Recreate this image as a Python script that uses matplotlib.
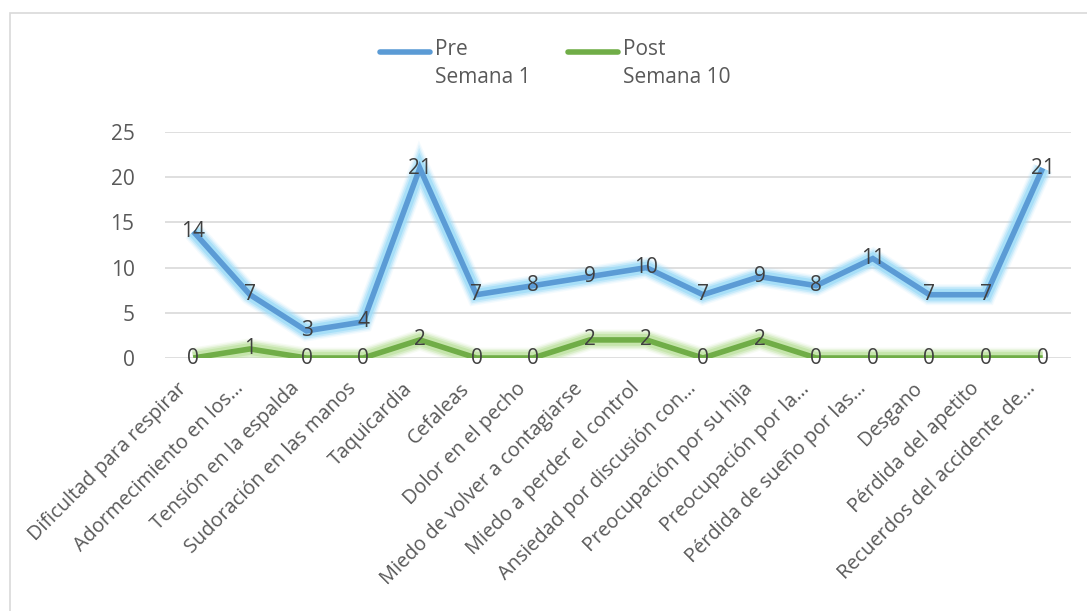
import matplotlib
matplotlib.use("Agg")
import matplotlib.pyplot as plt
import matplotlib.patheffects as pe
from matplotlib.lines import Line2D
from matplotlib.patches import Rectangle
from matplotlib.transforms import ScaledTranslation

plt.rcParams['font.family'] = ['Open Sans', 'DejaVu Sans']

categories = [
    "Dificultad para respirar",
    "Adormecimiento en los…",
    "Tensión en la espalda",
    "Sudoración en las manos",
    "Taquicardia",
    "Cefaleas",
    "Dolor en el pecho",
    "Miedo de volver a contagiarse",
    "Miedo a perder el control",
    "Ansiedad por discusión con…",
    "Preocupación por su hija",
    "Preocupación por la…",
    "Pérdida de sueño por las…",
    "Desgano",
    "Pérdida del apetito",
    "Recuerdos del accidente de…",
]
pre_semana1 = [14, 7, 3, 4, 21, 7, 8, 9, 10, 7, 9, 8, 11, 7, 7, 21]
post_semana10 = [0, 1, 0, 0, 2, 0, 0, 2, 2, 0, 2, 0, 0, 0, 0, 0]
y_ticks = [0, 5, 10, 15, 20, 25]

W, H = 1087, 611
FS = 15
fig = plt.figure(figsize=(W / 100, H / 100), dpi=100)
fig.patch.set_facecolor("white")

# light outer frame of the chart area
fig.patches.append(Rectangle((10 / W, -0.05), 1.2, 1 - 13 / H + 0.05,
                             transform=fig.transFigure, fill=False,
                             edgecolor="#D9D9D9", linewidth=1.2, zorder=0))

ax = fig.add_axes([165 / W, 1 - 358 / H, (1071 - 165) / W, (358 - 132) / H])
x = list(range(len(categories)))

blue, blue_glow = "#5B9BD5", "#9EDCF8"
green, green_glow = "#70AD47", "#BFE3A2"


def glow(color):
    return [
        pe.Stroke(linewidth=15, foreground=color, alpha=0.12),
        pe.Stroke(linewidth=13, foreground=color, alpha=0.22),
        pe.Stroke(linewidth=11, foreground=color, alpha=0.4),
        pe.Stroke(linewidth=8.5, foreground=color, alpha=0.75),
        pe.Normal(),
    ]


ax.plot(x, pre_semana1, color=blue, linewidth=4.0, solid_joinstyle="miter",
        solid_capstyle="butt", path_effects=glow(blue_glow), zorder=3)
ax.plot(x, post_semana10, color=green, linewidth=4.0, solid_joinstyle="miter",
        solid_capstyle="butt", path_effects=glow(green_glow), zorder=3)

for xi, v in zip(x, pre_semana1):
    ax.text(xi, v, str(v), ha="center", va="center", fontsize=FS,
            color="#404040", zorder=5)
for xi, v in zip(x, post_semana10):
    ax.text(xi, v, str(v), ha="center", va="center", fontsize=FS,
            color="#404040", zorder=5)

ax.set_xlim(-0.5, len(categories) - 0.5)
ax.set_ylim(0, 25)
ax.set_yticks(y_ticks)
ax.yaxis.grid(True, color="#D9D9D9", linewidth=1.2)
ax.set_axisbelow(True)
for s in ax.spines.values():
    s.set_visible(False)
ax.tick_params(axis="y", length=0, pad=22, labelsize=FS, labelcolor="#595959")
ax.tick_params(axis="x", length=0, pad=20, labelsize=14.3, labelcolor="#595959")

ax.set_xticks(x)
ax.set_xticklabels(categories, rotation=45, ha="right", va="center",
                   rotation_mode="anchor")
offset = ScaledTranslation(-7 / 72, 0, fig.dpi_scale_trans)
for lbl in ax.get_xticklabels():
    lbl.set_transform(lbl.get_transform() + offset)

# legend at the top
for (x0, x1, tx, color, label) in [
    (380, 430, 435, blue, "Pre\nSemana 1"),
    (568, 618, 623, green, "Post\nSemana 10"),
]:
    yl = 1 - 52 / H
    fig.add_artist(Line2D([x0 / W, x1 / W], [yl, yl], transform=fig.transFigure,
                          color=color, linewidth=4.0, solid_capstyle="round"))
    fig.text(tx / W, 1 - 39 / H, label, ha="left", va="top", fontsize=FS,
             color="#595959", linespacing=1.45)

fig.savefig("out.png", dpi=100, facecolor="white")
